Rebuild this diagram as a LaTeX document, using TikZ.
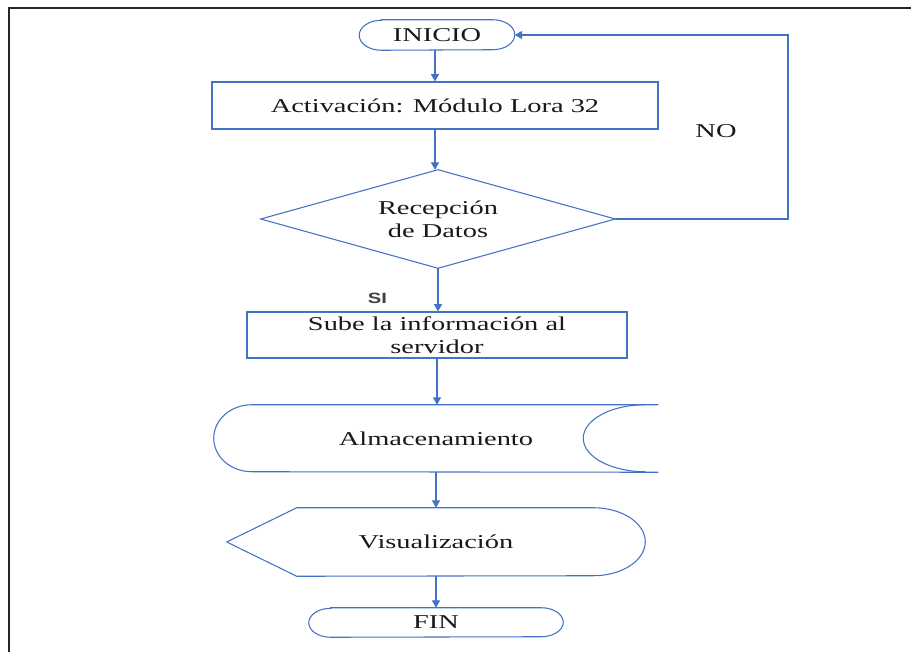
\documentclass[tikz,border=0pt]{standalone}
\usepackage{fontspec}
\setmainfont{Liberation Serif}[FakeStretch=1.45]
\newfontfamily\silabel{Liberation Sans}[FakeStretch=1.35]
\usetikzlibrary{arrows.meta,calc}
\definecolor{fblue}{HTML}{4472C4}
\tikzset{
  fl/.style={draw=fblue,line width=0.8pt},
  arr/.style={draw=fblue,line width=0.8pt,-{Triangle[length=5.5pt,width=6pt]}},
  box/.style={inner sep=0pt,font=\fontsize{14.7}{17}\selectfont,align=center,text=black!90},
}
\begin{document}
\begin{tikzpicture}[x=0.75pt,y=-0.75pt]
\useasboundingbox (0,0) rectangle (911,652);
\fill[white] (0,0) rectangle (911,652);
% frame
\draw[line width=1.6pt,black!85] (9,652) -- (9,8) -- (911,8);

% nodes
\node[box,minimum width=116.25pt,minimum height=22.5pt] (ini) at (437,35) {INICIO};
\node[box,fl,minimum width=334.5pt,minimum height=35.25pt] (act) at (435,105.5) {Activación: Módulo Lora 32};
\node[box,minimum width=265.5pt,minimum height=73.5pt] (dia) at (438,219) {Recepción\\de Datos};
\node[box,fl,minimum width=285pt,minimum height=34.5pt] (sub) at (437,335) {Sube la información al\\servidor};
\node[box,minimum width=333pt,minimum height=50.25pt] (alm) at (436,438.5) {Almacenamiento};
\node[box,minimum width=313.5pt,minimum height=51pt] (vis) at (436,542) {Visualización};
\node[box,minimum width=190.5pt,minimum height=21.75pt] (fin) at (436,622.5) {FIN};
\node[box] (no) at (716,131) {NO};
\node[inner sep=0pt,font=\silabel\bfseries\fontsize{11.2}{13}\selectfont,text=black!75] (si) at (377.5,298) {SI};

% shapes
\draw[fl] ($(ini.north west)+(22,0)$) -- ($(ini.north east)+(-22,0)$)
  arc[start angle=90,end angle=-90,x radius=16.5pt,y radius=11.25pt]
  -- ($(ini.south west)+(22,0)$)
  arc[start angle=270,end angle=90,x radius=16.5pt,y radius=11.25pt] -- cycle;
\draw[fl] (dia.north) -- (dia.east) -- (dia.south) -- (dia.west) -- cycle;
\draw[fl] (alm.north east) -- ($(alm.north west)+(38,0)$)
  arc[start angle=90,end angle=270,x radius=28.5pt,y radius=25.125pt]
  -- (alm.south east);
\draw[fl] ($(alm.north east)+(-13,0)$)
  arc[start angle=90,end angle=270,x radius=46.5pt,y radius=25.125pt];
\draw[fl] (vis.west) -- ($(vis.north west)+(70,0)$) -- ($(vis.north east)+(-52,0)$)
  arc[start angle=90,end angle=-90,x radius=39pt,y radius=25.5pt]
  -- ($(vis.south west)+(70,0)$) -- cycle;
\draw[fl] ($(fin.north west)+(22,0)$) -- ($(fin.north east)+(-22,0)$)
  arc[start angle=90,end angle=-90,x radius=16.5pt,y radius=10.875pt]
  -- ($(fin.south west)+(22,0)$)
  arc[start angle=270,end angle=90,x radius=16.5pt,y radius=10.875pt] -- cycle;

% connectors
\coordinate (fbx) at (788,0);
\draw[arr] (ini.south -| act.north) -- (act.north);
\draw[arr] (act.south) -- (act.south |- dia.north);
\draw[arr] (dia.south) -- (dia.south |- sub.north);
\draw[arr] (sub.south) -- (sub.south |- alm.north);
\draw[arr] (alm.south) -- (alm.south |- vis.north);
\draw[arr] (vis.south) -- (vis.south |- fin.north);
\draw[arr] (dia.east) -- (dia.east -| fbx) |- (ini.east);
\end{tikzpicture}
\end{document}
